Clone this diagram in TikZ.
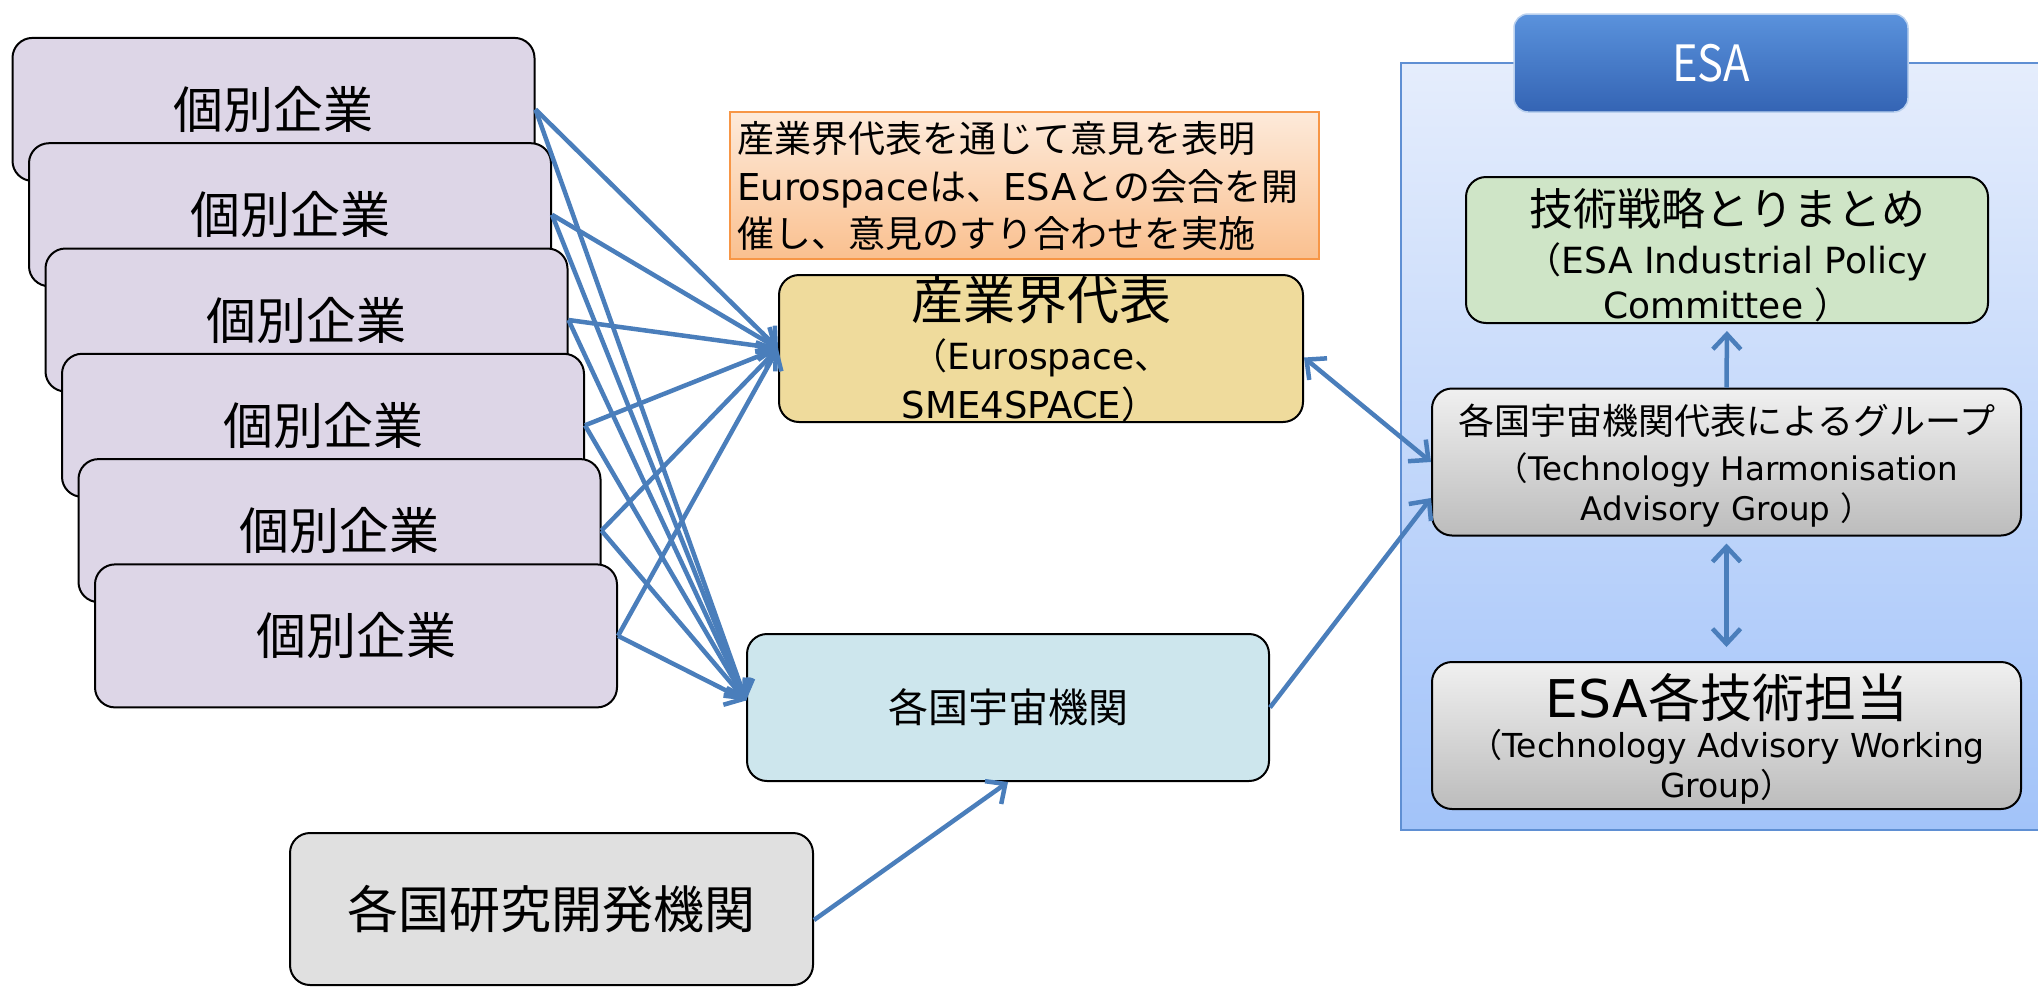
\documentclass[tikz,border=0pt]{standalone}
\usepackage{fontspec}
\newfontfamily\jp{Noto Sans CJK JP}
\newfontfamily\jpn[FakeStretch=0.87]{Noto Sans CJK JP}
\newfontfamily\lat{DejaVu Sans}
\usetikzlibrary{arrows.meta}
\definecolor{compfill}{HTML}{DDD6E7}
\definecolor{irfill}{HTML}{EFDB9C}
\definecolor{uafill}{HTML}{CDE6ED}
\definecolor{rdfill}{HTML}{E0E0E0}
\definecolor{grfill}{HTML}{CFE5C7}
\definecolor{arrowblue}{HTML}{4A7EBB}
\definecolor{notetop}{HTML}{FDEADA}
\definecolor{notebot}{HTML}{FAC08F}
\definecolor{noteline}{HTML}{F79646}
\definecolor{esatop}{HTML}{E5EDFC}
\definecolor{esabot}{HTML}{A2C3F9}
\definecolor{esaline}{HTML}{5F8FD3}
\definecolor{hdtop}{HTML}{5A92DC}
\definecolor{hdbot}{HTML}{3464B4}
\definecolor{hdline}{HTML}{B9D0EE}
\definecolor{graytop}{HTML}{F0F0F0}
\definecolor{graybot}{HTML}{BCBCBC}
\begin{document}
\begin{tikzpicture}[x=1pt,y=-1pt,
  box/.style={draw=black, line width=2pt, rounded corners=20pt, inner sep=0pt},
  company/.style={box, fill=compfill, minimum width=522pt, minimum height=143pt, font=\jp\fontsize{50pt}{50pt}\selectfont},
  gbox/.style={box, top color=graytop, bottom color=graybot, minimum width=589pt, minimum height=147pt},
  lbl/.style={inner sep=0pt, anchor=base},
  tip/.style={Straight Barb[length=15pt,width=28pt]},
  conn/.style={draw=arrowblue, line width=4.5pt, -{Straight Barb[length=15pt,width=28pt]}},
  biconn/.style={draw=arrowblue, line width=4.5pt, {Straight Barb[length=15pt,width=28pt]}-{Straight Barb[length=15pt,width=28pt]}},
]
\useasboundingbox (0,0) rectangle (2038,989);

% ESA container and header
\node[draw=esaline, line width=2pt, top color=esatop, bottom color=esabot, minimum width=660pt, minimum height=767pt, anchor=north west, inner sep=0pt] (esa) at (1400,62) {};
\node[rounded corners=14pt, draw=hdline, line width=1.5pt, top color=hdtop, bottom color=hdbot, minimum width=394pt, minimum height=98pt, inner sep=0pt, text=white, font=\jpn\fontsize{50pt}{50pt}\selectfont] (esahead) at (1711,63) {ESA};

% ESA internal boxes
\node[box, fill=grfill, minimum width=522pt, minimum height=146pt] (gr) at (1727,250) {};
\node[lbl, font=\jp\fontsize{44pt}{44pt}\selectfont] (gr1) at (1727,225) {技術戦略とりまとめ};
\node[lbl, font=\jp\fontsize{36pt}{36pt}\selectfont] (gr2) at (1727,273) {（{\lat ESA Industrial Policy}};
\node[lbl, font=\jp\fontsize{36pt}{36pt}\selectfont] (gr3) at (1727,318) {{\lat Committee }）};

\node[gbox] (th) at (1726.5,462) {};
\node[lbl, font=\jp\fontsize{36pt}{36pt}\selectfont] (th1) at (1727,434) {各国宇宙機関代表によるグループ};
\node[lbl, font=\jp\fontsize{32.5pt}{32.5pt}\selectfont] (th2) at (1727,480) {（{\lat Technology Harmonisation}};
\node[lbl, font=\jp\fontsize{32.5pt}{32.5pt}\selectfont] (th3) at (1727,520) {{\lat Advisory Group }）};

\node[gbox] (tw) at (1726.5,735.5) {};
\node[lbl, font=\jp\fontsize{52pt}{52pt}\selectfont] (tw1) at (1727,717) {{\lat ESA}各技術担当};
\node[lbl, font=\jp\fontsize{33pt}{33pt}\selectfont] (tw2) at (1727,757) {（{\lat Technology Advisory Working}};
\node[lbl, font=\jp\fontsize{33pt}{33pt}\selectfont] (tw3) at (1727,797) {{\lat Group}）};

% individual companies
\node[company] (c1) at (273.5,109.4) {個別企業};
\node[company] (c2) at (290,214.7) {個別企業};
\node[company] (c3) at (306.5,320) {個別企業};
\node[company] (c4) at (323,425.3) {個別企業};
\node[company] (c5) at (339.5,530.6) {個別企業};
\node[company] (c6) at (356,635.9) {個別企業};

% note
\node[draw=noteline, line width=2pt, top color=notetop, bottom color=notebot, minimum width=589pt, minimum height=147pt, inner sep=0pt] (note) at (1024.5,185.5) {};
\node[inner sep=0pt, anchor=base west, font=\jp\fontsize{37pt}{37pt}\selectfont] (note1) at (737,152.5) {産業界代表を通じて意見を表明};
\node[inner sep=0pt, anchor=base west, font=\jp\fontsize{37pt}{37pt}\selectfont] (note2) at (737,200) {{\lat Eurospace}は、{\lat ESA}との会合を開};
\node[inner sep=0pt, anchor=base west, font=\jp\fontsize{37pt}{37pt}\selectfont] (note3) at (737,247.5) {催し、意見のすり合わせを実施};

% industry representatives
\node[box, fill=irfill, minimum width=524pt, minimum height=147pt] (ir) at (1041,348.5) {};
\node[lbl, font=\jp\fontsize{52pt}{52pt}\selectfont] (ir1) at (1041,319) {産業界代表};
\node[lbl, font=\jp\fontsize{36pt}{36pt}\selectfont] (ir2) at (1041,369) {（{\lat Eurospace}、};
\node[lbl, font=\jp\fontsize{37pt}{37pt}\selectfont] (ir3) at (1030,418) {{\lat SME4SPACE}）};

% national space agencies
\node[box, fill=uafill, minimum width=522pt, minimum height=147pt, font=\jp\fontsize{40pt}{40pt}\selectfont] (ua) at (1008,707.5) {各国宇宙機関};

% national R&D organisations
\node[box, fill=rdfill, minimum width=523pt, minimum height=152pt, font=\jp\fontsize{51pt}{51pt}\selectfont] (rd) at (551.5,909) {各国研究開発機関};

% connectors
\foreach \i in {1,...,6} {
  \draw[conn] (c\i.east) -- (ir.west);
  \draw[conn] (c\i.east) -- ([yshift=7pt]ua.west);
}
\draw[conn] ([yshift=-11pt]rd.east) -- (ua.south);
\draw[biconn] ([yshift=-9pt]ir.east) -- (th.west);
\draw[conn] (ua.east) -- ([yshift=-36pt]th.west);
\draw[conn, shorten >=7pt] (th.north) -- (gr.south);
\draw[biconn, shorten <=7pt, shorten >=14pt] (th.south) -- (tw.north);
\end{tikzpicture}
\end{document}
